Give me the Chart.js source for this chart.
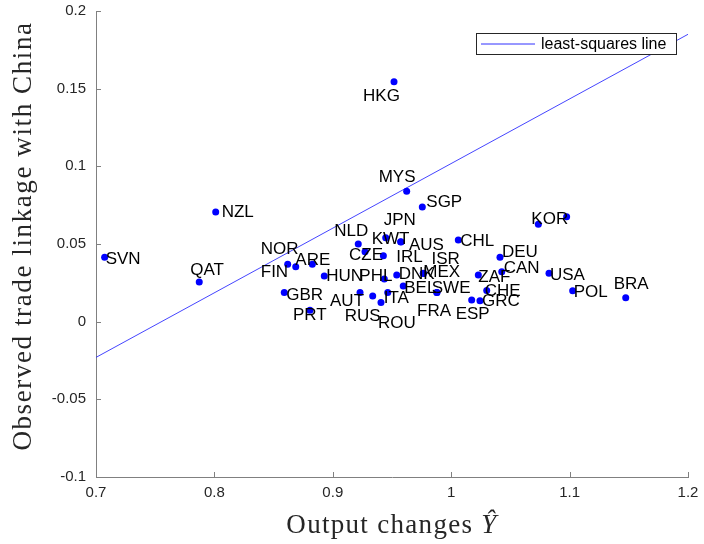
<!DOCTYPE html>
<html lang="en">
<head>
<meta charset="UTF-8" />
<title>Observed trade linkage with China</title>
<script src="https://cdn.jsdelivr.net/npm/chart.js"></script>
<style>
    html, body { margin: 0; padding: 0; background: #fff; }
    #wrap { width: 704px; height: 544px; }
</style>
</head>
<body>
<div id="wrap"><canvas id="chart" width="704" height="544"></canvas></div>
<script>
    // country codes and values
    const countries = ['SVN','QAT','NZL','NOR','FIN','ARE','GBR','PRT','HUN','NLD','CZE','KWT','JPN','AUS','IRL','PHL','DNK','BEL','MEX','ISR','SWE','FRA','AUT','RUS','ROU','ITA','MYS','SGP','HKG','CHL','DEU','CAN','ZAF','CHE','ESP','GRC','KOR','USA','POL','BRA',''];
    const outputChange = [0.7073,0.7872,0.8011,0.8619,0.8687,0.8827,0.8590,0.8807,0.8928,0.9215,0.9272,0.9447,0.9573,0.9576,0.9427,0.9435,0.9540,0.9595,0.9764,0.9766,0.9878,0.9880,0.9230,0.9337,0.9407,0.9464,0.9624,0.9756,0.9517,1.0060,1.0412,1.0427,1.0229,1.0300,1.0173,1.0243,1.0736,1.0826,1.1026,1.1474,1.0975];
    const tradeLinkage = [0.0414,0.0255,0.0706,0.0369,0.0354,0.0369,0.0188,0.0074,0.0294,0.0500,0.0450,0.0541,0.0515,0.0513,0.0425,0.0274,0.0300,0.0229,0.0311,0.0310,0.0188,0.0187,0.0188,0.0165,0.0124,0.0188,0.0840,0.0739,0.1545,0.0526,0.0414,0.0321,0.0300,0.0201,0.0139,0.0135,0.0627,0.0311,0.0199,0.0154,0.0676];

    // least-squares line end points
    const fitX = [0.7, 1.2];
    const fitY = [-0.023, 0.185];

    const xTicks = [0.7, 0.8, 0.9, 1, 1.1, 1.2];
    const xTickLabels = ['0.7','0.8','0.9','1','1.1','1.2'];
    const yTicks = [-0.1, -0.05, 0, 0.05, 0.1, 0.15, 0.2];
    const yTickLabels = ['-0.1','-0.05','0','0.05','0.1','0.15','0.2'];

    // where each country name sits relative to its dot (px)
    const labelOffsets = [[1,2],[-9,-12],[6,0],[-27,-15],[-35,6],[-17,-4],[2,3],[-17,5],[2,0],[-24,-13],[-16,4],[-14,2],[-17,-21],[8,3],[13,2],[-25,-3],[2,-1],[1,2],[0,-1],[8,-14],[-5,-4],[-20,19],[-30,9],[-28,20],[-3,21],[-4,6],[-28,-14],[4,-5],[-31,15],[2,1],[2,-5],[2,-3],[0,2],[-2,1],[-16,14],[2,1],[-7,-5],[1,2],[1,2],[-12,-13],[0,0]];

    const BLUE = '#0000ff';
    const AXIS = '#808080';

    const decor = {
        id: 'decor',
        afterDatasetsDraw(chart) {
            const ctx = chart.ctx;
            const pts = chart.getDatasetMeta(0).data;
            ctx.save();
            ctx.font = '17px "Liberation Sans", Arial, sans-serif';
            ctx.fillStyle = '#000';
            ctx.textAlign = 'left';
            ctx.textBaseline = 'middle';
            pts.forEach((p, i) => {
                if (!countries[i]) return;
                ctx.fillText(countries[i], p.x + labelOffsets[i][0], p.y + labelOffsets[i][1]);
            });
            ctx.restore();
        },
        afterDraw(chart) {
            const ctx = chart.ctx;
            const a = chart.chartArea;
            const xs = chart.scales.x, ys = chart.scales.y;
            ctx.save();
            // inward tick marks
            ctx.strokeStyle = AXIS;
            ctx.lineWidth = 1;
            ctx.beginPath();
            xTicks.forEach(v => {
                const px = Math.round(xs.getPixelForValue(v)) + 0.5;
                ctx.moveTo(px, a.bottom);
                ctx.lineTo(px, a.bottom - 5);
            });
            yTicks.forEach(v => {
                const py = Math.round(ys.getPixelForValue(v)) + 0.5;
                ctx.moveTo(a.left, py);
                ctx.lineTo(a.left + 5, py);
            });
            ctx.stroke();

            // legend box
            const ds = chart.data.datasets[1];
            const bx = 476.5, by = 33.5, bw = 200, bh = 21;
            ctx.fillStyle = '#fff';
            ctx.fillRect(bx, by, bw, bh);
            ctx.strokeStyle = '#262626';
            ctx.strokeRect(bx, by, bw, bh);
            ctx.strokeStyle = ds.borderColor;
            ctx.lineWidth = 1;
            ctx.beginPath();
            ctx.moveTo(481, by + bh / 2);
            ctx.lineTo(535, by + bh / 2);
            ctx.stroke();
            ctx.fillStyle = '#000';
            ctx.font = '16px "Liberation Sans", Arial, sans-serif';
            ctx.textBaseline = 'middle';
            ctx.fillText(ds.label, 541, by + bh / 2 + 1);

            // axis titles
            ctx.fillStyle = '#262626';
            ctx.textBaseline = 'alphabetic';
            ctx.letterSpacing = '1.3px';
            ctx.font = '27px "Liberation Serif", "Times New Roman", serif';
            const xt = 'Output changes ';
            const w1 = ctx.measureText(xt).width;
            ctx.font = 'italic 27px "Liberation Serif", "Times New Roman", serif';
            const w2 = ctx.measureText('Ŷ').width;
            const cx = (a.left + a.right) / 2;
            const x0 = cx - (w1 + w2) / 2;
            ctx.textAlign = 'left';
            ctx.font = '27px "Liberation Serif", "Times New Roman", serif';
            ctx.fillText(xt, x0, 533);
            ctx.font = 'italic 27px "Liberation Serif", "Times New Roman", serif';
            ctx.fillText('Ŷ', x0 + w1, 533);

            ctx.translate(31, 236);
            ctx.rotate(-Math.PI / 2);
            ctx.textAlign = 'center';
            ctx.letterSpacing = '1.6px';
            ctx.font = '27px "Liberation Serif", "Times New Roman", serif';
            ctx.fillText('Observed trade linkage with China', 0, 0);
            ctx.restore();
        }
    };

    new Chart(document.getElementById('chart'), {
        data: {
            datasets: [{
                type: 'scatter',
                label: 'countries',
                data: outputChange.map((x, i) => ({ x: x, y: tradeLinkage[i] })),
                backgroundColor: BLUE,
                borderWidth: 0,
                pointRadius: 3.5,
                pointHoverRadius: 3.5
            }, {
                type: 'line',
                label: 'least-squares line',
                data: fitX.map((x, i) => ({ x: x, y: fitY[i] })),
                borderColor: '#3030ff',
                borderWidth: 0.9,
                pointRadius: 0,
                fill: false
            }]
        },
        options: {
            responsive: false,
            animation: false,
            events: [],
            layout: { padding: { top: 11, right: 16, left: 0, bottom: 0 } },
            plugins: { legend: { display: false }, tooltip: { enabled: false } },
            scales: {
                x: {
                    type: 'linear',
                    min: 0.7,
                    max: 1.2,
                    afterFit: s => { s.height = 67; s.paddingLeft = 0; s.paddingRight = 0; },
                    afterBuildTicks: s => { s.ticks = xTicks.map(v => ({ value: v })); },
                    grid: { display: false, drawTicks: false },
                    border: { display: true, color: AXIS, width: 1 },
                    ticks: {
                        padding: 7,
                        color: '#262626',
                        font: { family: '"Liberation Sans", Arial, sans-serif', size: 15 },
                        callback: (v, i) => xTickLabels[i]
                    }
                },
                y: {
                    type: 'linear',
                    min: -0.1,
                    max: 0.2,
                    afterFit: s => { s.width = 96; s.paddingTop = 0; s.paddingBottom = 0; },
                    afterBuildTicks: s => { s.ticks = yTicks.map(v => ({ value: v })); },
                    grid: { display: false, drawTicks: false },
                    border: { display: true, color: AXIS, width: 1 },
                    ticks: {
                        padding: 10,
                        color: '#262626',
                        font: { family: '"Liberation Sans", Arial, sans-serif', size: 15 },
                        callback: (v, i) => yTickLabels[i]
                    }
                }
            }
        },
        plugins: [decor]
    });
</script>
</body>
</html>
